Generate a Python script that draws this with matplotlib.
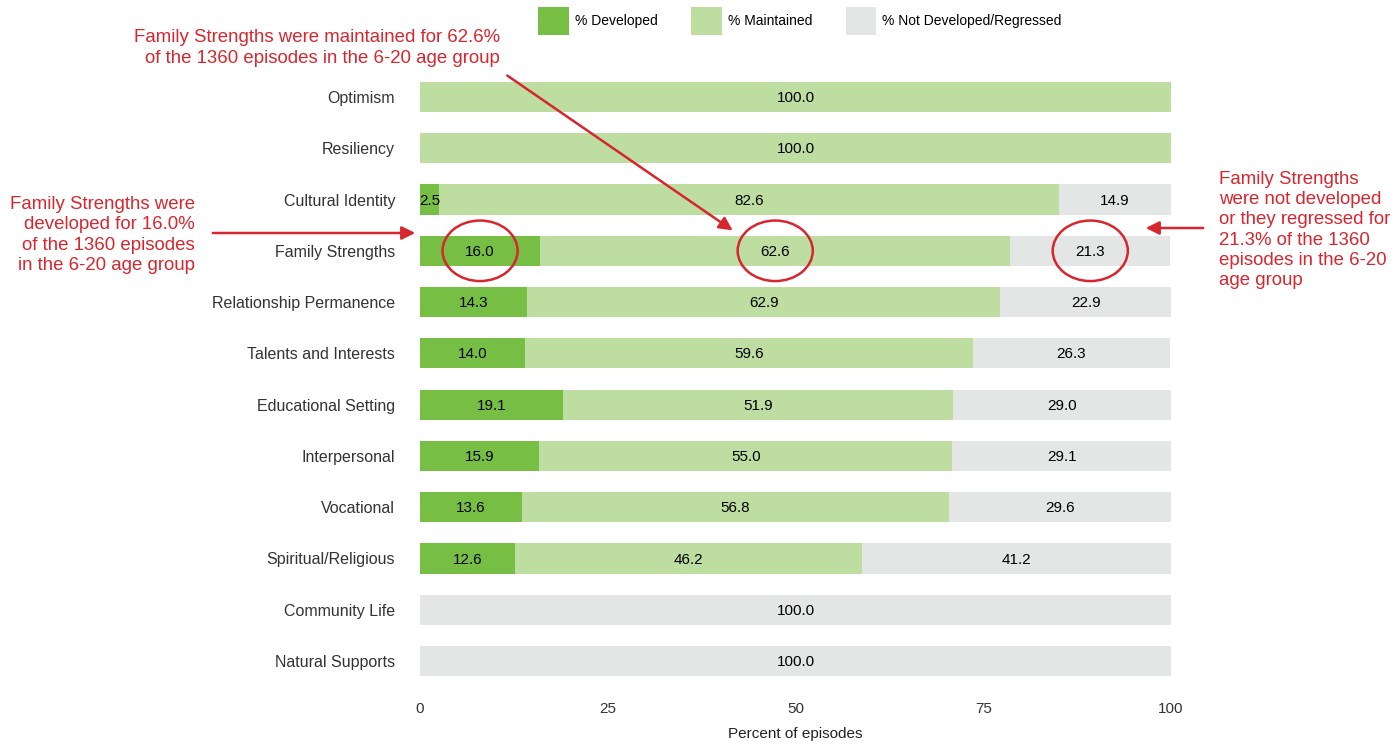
import matplotlib
matplotlib.use("Agg")
import matplotlib.pyplot as plt
from matplotlib.patches import Ellipse, Patch
import numpy as np

plt.rcParams['font.family'] = ['Liberation Sans', 'DejaVu Sans']

categories = ["Optimism", "Resiliency", "Cultural Identity", "Family Strengths",
              "Relationship Permanence", "Talents and Interests", "Educational Setting",
              "Interpersonal", "Vocational", "Spiritual/Religious", "Community Life",
              "Natural Supports"]
developed = [0, 0, 2.5, 16.0, 14.3, 14.0, 19.1, 15.9, 13.6, 12.6, 0, 0]
maintained = [100.0, 100.0, 82.6, 62.6, 62.9, 59.6, 51.9, 55.0, 56.8, 46.2, 0, 0]
not_developed = [0, 0, 14.9, 21.3, 22.9, 26.3, 29.0, 29.1, 29.6, 41.2, 100.0, 100.0]
series_names = ["% Developed", "% Maintained", "% Not Developed/Regressed"]
colors = ["#76bf44", "#bddea0", "#e4e5e5"]
xticks = [0, 25, 50, 75, 100]

fig = plt.figure(figsize=(13.92, 7.44), dpi=100)
ax = fig.add_axes([420/1392, 1-691.8/744, (1171-420)/1392, (691.8-66.2)/744])

y = np.arange(len(categories))
left = np.zeros(len(categories))
for vals, col in zip([developed, maintained, not_developed], colors):
    vals = np.array(vals)
    ax.barh(y, vals, left=left, height=0.59, color=col, edgecolor='none')
    for yi, (l, v) in enumerate(zip(left, vals)):
        if v > 0:
            ax.text(l + v/2, yi + 0.02, f"{v:.1f}", ha='center', va='center', fontsize=11, color='black')
    left = left + vals

ax.set_xlim(0, 100)
ax.set_ylim(11.6, -0.6)
ax.set_yticks(y)
ax.set_yticklabels(categories, fontsize=11.5, color='#333333')
ax.set_xticks(xticks)
ax.set_xticklabels([str(t) for t in xticks], fontsize=11, color='#333333')
ax.tick_params(axis='y', length=0, pad=18)
ax.tick_params(axis='x', length=0, pad=7)
for s in ax.spines.values():
    s.set_visible(False)
ax.set_xlabel("Percent of episodes", fontsize=11, color='#222222', labelpad=8)

handles = [Patch(facecolor=c, edgecolor='none') for c in colors]
fig.legend(handles, series_names, loc='center', bbox_to_anchor=(800/1392, 1-21/744),
           ncol=3, frameon=False, fontsize=10, handlelength=2.2, handleheight=2.8,
           columnspacing=2.4, handletextpad=0.45)

red = '#d7262e'
# ellipses around Family Strengths values
fs = 3
e_centers = [developed[fs]/2, developed[fs] + maintained[fs]/2,
             developed[fs] + maintained[fs] + not_developed[fs]/2]
for cx in e_centers:
    ax.add_patch(Ellipse((cx, fs), width=10, height=1.18, fill=False,
                         edgecolor=red, linewidth=1.8, clip_on=False))

tkw = dict(color=red, fontsize=13.4, linespacing=1.24)
fig.text(195/1392, 1-235/744,
         "Family Strengths were\ndeveloped for 16.0%\nof the 1360 episodes\nin the 6-20 age group",
         ha='right', va='center', **tkw)
fig.text(500/1392, 1-48/744,
         "Family Strengths were maintained for 62.6%\nof the 1360 episodes in the 6-20 age group",
         ha='right', va='center', **tkw)
fig.text(1219/1392, 1-230/744,
         "Family Strengths\nwere not developed\nor they regressed for\n21.3% of the 1360\nepisodes in the 6-20\nage group",
         ha='left', va='center', **tkw)

arrow = dict(arrowstyle='-|>', color=red, lw=1.8, mutation_scale=20)
ax.annotate("", xy=(418/1392, 1-233/744), xytext=(210/1392, 1-233/744),
            xycoords='figure fraction', textcoords='figure fraction', arrowprops=arrow,
            annotation_clip=False)
ax.annotate("", xy=(735/1392, 1-232/744), xytext=(505/1392, 1-74/744),
            xycoords='figure fraction', textcoords='figure fraction', arrowprops=arrow,
            annotation_clip=False)
ax.annotate("", xy=(1143/1392, 1-228/744), xytext=(1206/1392, 1-228/744),
            xycoords='figure fraction', textcoords='figure fraction', arrowprops=arrow,
            annotation_clip=False)

fig.savefig("out.png", dpi=100)
